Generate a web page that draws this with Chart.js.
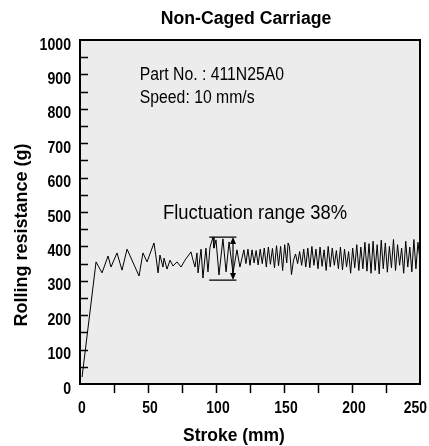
<!DOCTYPE html>
<html>
<head>
<meta charset="utf-8">
<script src="https://cdn.jsdelivr.net/npm/chart.js@4.4.1/dist/chart.umd.min.js"></script>
<style>
    html, body { margin: 0; padding: 0; background: #ffffff; }
    #grafico { display: block; }
</style>
</head>
<body>
<canvas id="grafico" width="429" height="446"></canvas>
<script>
    // Datos (carrera en mm, resistencia en g)
    const strokeMm = [
        1.5, 11.8, 16.2, 20.6, 22.8, 27.2, 30.9, 34.6, 43.4, 46.3, 49.3, 54.4, 55.9, 57.4, 58.8,
        61.0, 61.8, 64.0, 66.2, 68.4, 71.3, 74.3, 77.2, 79.4, 81.6, 83.1, 84.6, 86.0, 86.8, 89.0,
        90.4, 92.6, 94.1, 95.6, 97.8, 98.5, 100.0, 102.2, 105.1, 107.4, 109.6, 112.5, 115.4, 117.6,
        120.5, 122, 123.5, 125, 126.5, 128, 129.5, 131, 132.5, 134, 135.5, 137, 138.5, 140,
        141.5, 143, 144.5, 146, 147.5, 149, 150.5, 152, 153, 154, 155.5, 157, 158.5, 160,
        161.5, 163, 164.5, 166, 167.5, 169, 170.5, 172, 173.5, 175, 176.5, 178, 179.5, 181,
        182.5, 184, 185.5, 187, 188.5, 190, 191.5, 193, 194.5, 196, 197.5, 199, 200.5, 202,
        203.5, 205, 206.5, 208, 209.5, 211, 212.5, 214, 215.5, 217, 218.5, 220, 221.5, 223,
        224.5, 226, 227.5, 229, 230.5, 232, 233.5, 235, 236.5, 238, 239.5, 241, 242.5, 244,
        245.5, 247, 248.5, 250
    ];
    const resistanceG = [
        20, 355, 323, 372, 340, 381, 331, 392, 314, 381, 355, 410, 369, 323, 375,
        340, 366, 334, 360, 343, 355, 340, 360, 372, 384, 360, 340, 381, 323, 392,
        308, 395, 326, 398, 427, 395, 419, 317, 422, 326, 413, 323, 390, 340,
        390, 350, 392, 345, 390, 352, 388, 346, 392, 350, 395, 340, 398, 348,
        394, 338, 402, 344, 400, 330, 405, 352, 410, 400, 318, 360, 378, 350,
        385, 345, 392, 340, 395, 338, 400, 345, 392, 335, 398, 342, 390, 330,
        400, 340, 395, 345, 388, 335, 398, 332, 392, 340, 385, 322, 395, 338,
        405, 330, 398, 335, 412, 328, 408, 322, 415, 330, 405, 320, 418, 335,
        410, 325, 400, 338, 420, 330, 405, 345, 395, 322, 415, 340, 398, 326,
        420, 335, 412, 360
    ];

    // Etiquetas de los ejes
    const yTickLabels = [0, 100, 200, 300, 400, 500, 600, 700, 800, 900, 1000];
    const xTickLabels = [0, 50, 100, 150, 200, 250];

    // Rango de fluctuacion marcado en la grafica
    const rangoX = [95, 115];
    const rangoY = [302, 427];
    const rangoFlechaX = 112.5;

    const FAMILIA = "'Liberation Sans', Arial, Helvetica, sans-serif";

    // texto con escala horizontal (la fuente original es condensada)
    function texto(ctx, txt, x, y, size, bold, sx, align) {
        ctx.save();
        ctx.font = (bold ? 'bold ' : '') + size + 'px ' + FAMILIA;
        ctx.textBaseline = 'middle';
        ctx.textAlign = align || 'left';
        ctx.translate(x, y);
        ctx.scale(sx, 1);
        ctx.fillText(txt, 0, 0);
        ctx.restore();
    }

    // Fondo gris del area de trazado
    const fondoPlugin = {
        id: 'fondo',
        beforeDraw(chart) {
            const { ctx, chartArea: a } = chart;
            ctx.save();
            ctx.fillStyle = '#ececec';
            ctx.fillRect(a.left, a.top, a.right - a.left, a.bottom - a.top);
            ctx.restore();
        }
    };

    // Marco, marcas de ticks, titulos y anotaciones
    const marcoPlugin = {
        id: 'marco',
        afterDraw(chart) {
            const { ctx, chartArea: a } = chart;
            const x = chart.scales.x;
            const y = chart.scales.y;
            ctx.save();
            ctx.strokeStyle = '#000';
            ctx.fillStyle = '#000';

            // marco
            ctx.lineWidth = 2;
            ctx.strokeRect(a.left, a.top, a.right - a.left, a.bottom - a.top);

            // ticks interiores del eje Y cada 50
            ctx.lineWidth = 1.5;
            ctx.beginPath();
            for (let v = 50; v < 1000; v += 50) {
                const py = Math.round(y.getPixelForValue(v)) + 0.5;
                ctx.moveTo(a.left, py);
                ctx.lineTo(a.left + 8, py);
            }
            // ticks exteriores del eje X cada 25
            for (let v = 25; v < 250; v += 25) {
                const px = Math.round(x.getPixelForValue(v)) + 0.5;
                ctx.moveTo(px, a.bottom);
                ctx.lineTo(px, a.bottom + 9);
            }
            ctx.stroke();

            // etiquetas del eje Y
            yTickLabels.forEach(v => {
                texto(ctx, String(v), a.left - 9, y.getPixelForValue(v) + 5, 17, true, 0.83, 'right');
            });

            // etiquetas del eje X
            ctx.font = 'bold 17px ' + FAMILIA;
            xTickLabels.forEach(v => {
                const txt = String(v);
                const w = ctx.measureText(txt).width * 0.82;
                let px = x.getPixelForValue(v) + 2;
                if (px + w / 2 > chart.width - 2) px = chart.width - 2 - w / 2;
                texto(ctx, txt, px, a.bottom + 24, 17, true, 0.82, 'center');
            });

            // titulo
            texto(ctx, 'Non-Caged Carriage', 246, 19, 18, true, 0.98, 'center');

            // titulos de los ejes
            texto(ctx, 'Stroke (mm)', 234, 436, 18, true, 0.97, 'center');
            ctx.save();
            ctx.font = 'bold 18px ' + FAMILIA;
            ctx.textAlign = 'center';
            ctx.textBaseline = 'middle';
            ctx.setTransform(0, -1, 1, 0, 22, 235);
            ctx.fillText('Rolling resistance (g)', 0, 0);
            ctx.restore();

            // anotaciones
            texto(ctx, 'Part No. : 411N25A0', x.getPixelForValue(44), y.getPixelForValue(898), 17.5, false, 0.9);
            texto(ctx, 'Speed: 10 mm/s', x.getPixelForValue(44), y.getPixelForValue(831), 17.5, false, 0.9);
            texto(ctx, 'Fluctuation range 38%', x.getPixelForValue(61), y.getPixelForValue(497), 20, false, 0.92);

            // corchete del rango de fluctuacion
            const x0 = x.getPixelForValue(rangoX[0]);
            const x1 = x.getPixelForValue(rangoX[1]);
            const yTop = y.getPixelForValue(rangoY[1]);
            const yBot = y.getPixelForValue(rangoY[0]);
            const xf = x.getPixelForValue(rangoFlechaX);
            ctx.lineWidth = 1.2;
            ctx.beginPath();
            ctx.moveTo(x0, yTop); ctx.lineTo(x1, yTop);
            ctx.moveTo(x0, yBot); ctx.lineTo(x1, yBot);
            ctx.moveTo(xf, yTop + 4); ctx.lineTo(xf, yBot - 4);
            ctx.stroke();
            ctx.beginPath();
            ctx.moveTo(xf, yTop); ctx.lineTo(xf - 3, yTop + 7); ctx.lineTo(xf + 3, yTop + 7); ctx.closePath();
            ctx.moveTo(xf, yBot); ctx.lineTo(xf - 3, yBot - 7); ctx.lineTo(xf + 3, yBot - 7); ctx.closePath();
            ctx.fill();

            ctx.restore();
        }
    };

    const ctx = document.getElementById('grafico').getContext('2d');
    new Chart(ctx, {
        type: 'line',
        data: {
            datasets: [{
                data: strokeMm.map((s, i) => ({ x: s, y: resistanceG[i] })),
                borderColor: '#000',
                borderWidth: 1,
                pointRadius: 0,
                tension: 0,
                fill: false
            }]
        },
        options: {
            responsive: false,
            animation: false,
            events: [],
            layout: { autoPadding: false, padding: { left: 0, top: 40, right: 9, bottom: 0 } },
            plugins: { legend: { display: false }, tooltip: { enabled: false } },
            scales: {
                x: {
                    type: 'linear',
                    min: 0,
                    max: 250,
                    grid: { display: false, drawTicks: false },
                    border: { display: false },
                    ticks: { display: false },
                    afterFit: s => { s.height = 62; }
                },
                y: {
                    type: 'linear',
                    min: 0,
                    max: 1000,
                    grid: { display: false, drawTicks: false },
                    border: { display: false },
                    ticks: { display: false, stepSize: 50 },
                    afterFit: s => { s.width = 80; }
                }
            }
        },
        plugins: [fondoPlugin, marcoPlugin]
    });
</script>
</body>
</html>
